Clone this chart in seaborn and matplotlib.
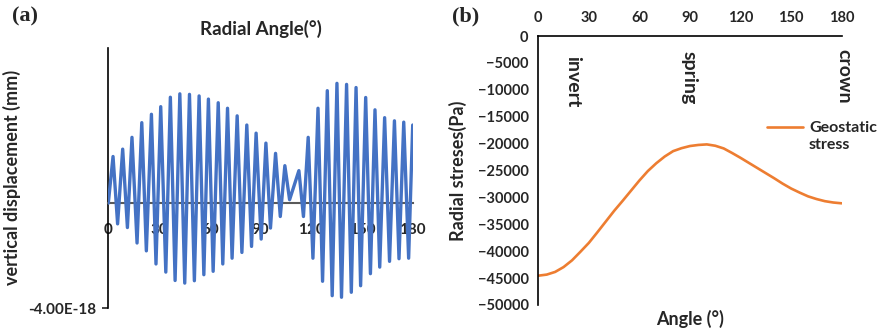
import numpy as np
import pandas as pd
import matplotlib
matplotlib.use("Agg")
import matplotlib.pyplot as plt
import seaborn as sns

# (a) Verschiebung: Extremwerte (Winkel in Grad, Wert in 1e-18 mm)
disp_angle = [0.0, 2.8, 5.5, 8.5, 11.3, 14.0, 17.0, 19.8, 22.5, 25.5, 28.2,
              31.0, 34.0, 36.7, 39.5, 42.3, 45.2, 48.0, 50.9, 53.7, 56.5,
              59.2, 62.0, 65.0, 67.7, 70.5, 73.2, 76.2, 79.0, 81.9, 84.7,
              87.4, 90.4, 93.2, 95.9, 98.9, 101.7, 104.4, 107.2, 112.7, 115.4,
              118.2, 121.0, 124.0, 126.7, 129.5, 132.4, 135.2, 137.9, 140.9, 143.7,
              146.5, 149.2, 152.2, 155.0, 157.7, 160.5, 163.4, 166.3, 169.2, 171.9,
              174.7, 177.6, 180.0]
disp_value = [0.0, 1.78, -0.79, 2.06, -0.93, 2.51, -1.52, 3.07, -1.82, 3.39, -2.32,
              3.68, -2.63, 4.04, -2.95, 4.17, -3.05, 4.15, -2.96, 4.09, -2.73,
              3.97, -2.60, 3.83, -2.32, 3.62, -2.10, 3.33, -1.88, 2.98, -1.65,
              2.67, -1.37, 2.29, -0.95, 1.90, -0.51, 1.43, 0.13, 1.24, -0.51,
              2.51, -2.10, 3.62, -2.98, 4.29, -3.53, 4.57, -3.59, 4.53, -3.40,
              4.41, -3.15, 4.03, -2.69, 3.56, -2.44, 3.26, -2.22, 3.14, -2.12,
              3.09, -2.10, 2.98]

stress_angle = list(range(0, 181, 5))
stress_value = [-44550, -44350, -43850, -42950, -41700, -40100, -38450, -36500,
                -34500, -32500, -30650, -28750, -26850, -25100, -23650, -22400,
                -21400, -20850, -20450, -20250, -20150, -20400, -20900, -21750,
                -22650, -23600, -24550, -25500, -26450, -27450, -28350, -29100,
                -29800, -30300, -30700, -30950, -31100]

x_ticks = [0, 30, 60, 90, 120, 150, 180]
y_ticks_b = list(range(0, -50001, -5000))
notes = [("invert", 20.4, -3700), ("spring", 89.6, -2800), ("crown", 181.4, -2500)]

BLUE = "#4472C4"
ORANGE = "#ED7D31"

sns.set_style("white")
plt.rcParams['font.family'] = ['Lato', 'DejaVu Sans']
plt.rcParams['font.weight'] = 'bold'

fig = plt.figure(figsize=(8.77, 3.35), dpi=100)

# ---------- (a) ----------
ax1 = fig.add_axes([108.3 / 877, 1 - 308 / 335, 304.4 / 877, 260.3 / 335])
df_a = pd.DataFrame({'angle': disp_angle, 'disp': np.array(disp_value) * 1e-18})
sns.lineplot(data=df_a, x='angle', y='disp', ax=ax1, color=BLUE, linewidth=2.4,
             zorder=3, solid_joinstyle='round', solid_capstyle='round')
ax1.set_xlim(0, 180)
ax1.set_ylim(-4.0e-18, 5.93e-18)
ax1.spines['top'].set_visible(False)
ax1.spines['right'].set_visible(False)
ax1.spines['bottom'].set_position(('data', 0))
ax1.spines['bottom'].set_color('#595959')
ax1.spines['bottom'].set_linewidth(1.5)
ax1.spines['left'].set_color('black')
ax1.spines['left'].set_linewidth(1.2)
ax1.set_xticks(x_ticks)
ax1.set_yticks([-4e-18])
ax1.set_yticklabels(['-4.00E-18'])
ax1.tick_params(axis='x', length=3, pad=11, direction='out', color='#595959',
                labelsize=11)
ax1.tick_params(axis='y', length=4, width=1.2, pad=5, labelsize=11, left=True)
ax1.set_xlabel('')
ax1.set_ylabel('vertical displacement (mm)', fontsize=13, fontweight='bold')
ax1.yaxis.set_label_coords(-0.287, 0.5)
ax1.set_title('Radial Angle(°)', fontsize=13.5, fontweight='bold', pad=9)
for lab in ax1.get_xticklabels() + ax1.get_yticklabels():
    lab.set_fontweight('bold')

# ---------- (b) ----------
ax2 = fig.add_axes([538.3 / 877, 1 - 305 / 335, 303.4 / 877, 269 / 335])
df_b = pd.DataFrame({'angle': stress_angle, 'stress': stress_value})
sns.lineplot(data=df_b, x='angle', y='stress', ax=ax2, color=ORANGE,
             linewidth=1.9, label='Geostatic\nstress')
ax2.set_xlim(0, 180)
ax2.set_ylim(-50000, 0)
ax2.xaxis.tick_top()
ax2.spines['bottom'].set_visible(False)
ax2.spines['right'].set_visible(False)
ax2.spines['top'].set_color('black')
ax2.spines['left'].set_color('black')
ax2.spines['top'].set_linewidth(1.2)
ax2.spines['left'].set_linewidth(1.2)
ax2.set_xticks(x_ticks)
ax2.set_yticks(y_ticks_b)
ax2.tick_params(axis='both', length=0, labelsize=10.5)
ax2.tick_params(axis='x', pad=8)
ax2.tick_params(axis='y', pad=7)
ax2.set_xlabel('Angle (°)', fontsize=13, fontweight='bold')
ax2.xaxis.set_label_position('bottom')
ax2.xaxis.set_label_coords(0.5, -0.02)
ax2.set_ylabel('Radial streses(Pa)', fontsize=13, fontweight='bold')
ax2.yaxis.set_label_coords(-0.235, 0.5)
for lab in ax2.get_xticklabels() + ax2.get_yticklabels():
    lab.set_fontweight('bold')
for txt, ang, val in notes:
    ax2.text(ang, val, txt, rotation=270, ha='center', va='top',
             fontsize=14, fontweight='bold')
leg = ax2.legend(loc='upper left', bbox_to_anchor=(766.7 / 877, 1 - 121 / 335),
                 bbox_transform=fig.transFigure, frameon=False, fontsize=11.5,
                 handlelength=2.3, handletextpad=0.35, borderpad=0,
                 borderaxespad=0, labelspacing=0.2)
for t in leg.get_texts():
    t.set_fontweight('bold')
    t.set_linespacing(1.25)
# Legendenlinie auf Höhe der ersten Textzeile setzen
hline = leg.legend_handles[0]
hline.set_ydata(np.asarray(hline.get_ydata()) + 7.0)

fig.text(12 / 877, 1 - 6 / 335, '(a)', family='Liberation Serif',
         fontweight='bold', fontsize=16, va='top', ha='left')
fig.text(452 / 877, 1 - 6 / 335, '(b)', family='Liberation Serif',
         fontweight='bold', fontsize=16, va='top', ha='left')

fig.savefig('out.png', dpi=100)
